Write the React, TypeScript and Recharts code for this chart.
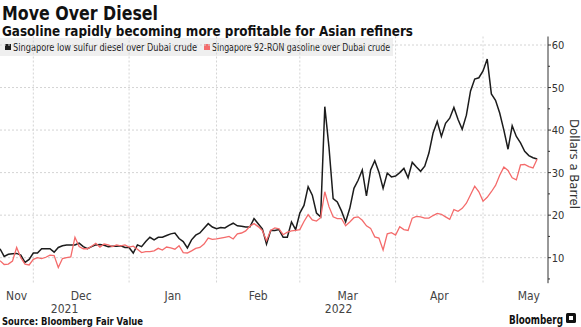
import React from "react";
import { LineChart, Line, XAxis, YAxis, CartesianGrid } from "recharts";

// Singapore low sulfur diesel over Dubai crude (business days, Nov 19 2021 - May 19 2022)
const diesel = [
  12.1, 10.3, 10.8, 10.9, 11.0, 10.6, 8.9, 9.6, 11.1, 11.1,
  12.1, 12.1, 12.1, 11.3, 12.4, 12.8, 13.0, 13.0, 13.0, 13.4,
  12.6, 12.1, 12.6, 13.0, 13.1, 12.9, 12.6, 12.7, 12.7, 12.8,
  12.4, 12.4, 11.1, 13.0, 12.6, 13.8, 14.8, 14.2, 14.8, 14.8,
  15.2, 15.6, 15.8, 14.5, 13.8, 12.3, 14.2, 15.3, 15.8, 16.9,
  18.0, 17.2, 16.8, 17.1, 17.0, 17.6, 18.1, 17.5, 17.4, 17.2,
  17.2, 19.2, 18.0, 16.8, 13.2, 16.4, 16.4, 16.6, 14.8, 14.8,
  18.4, 16.6, 20.5, 22.3, 26.7, 24.7, 20.5, 19.6, 45.5, 36.0,
  23.9, 23.1, 21.0, 18.4, 21.6, 26.3, 28.2, 30.6, 24.5, 30.6,
  32.8, 30.1, 26.3, 29.9, 29.0, 29.2, 30.0, 31.0, 28.8, 32.4,
  31.3, 30.3, 31.5, 34.6, 39.3, 42.0, 38.5, 41.6, 42.8, 45.3,
  42.5, 40.2, 43.5, 49.2, 52.0, 52.3, 53.9, 56.7, 48.5, 47.0,
  44.0, 40.0, 35.5, 41.0, 38.5, 37.0, 35.0, 34.0, 33.5, 33.2,
];

// Singapore 92-RON gasoline over Dubai crude
const gasoline = [
  9.3, 8.4, 8.5, 9.2, 12.4, 10.0, 8.5, 8.3, 9.6, 10.0,
  9.8, 10.1, 10.6, 10.5, 7.7, 9.8, 10.0, 10.2, 14.8, 12.6,
  12.1, 12.1, 12.7, 13.4, 12.5, 13.2, 13.0, 12.6, 13.0, 12.8,
  13.0, 12.5, 12.7, 12.0, 11.2, 11.4, 11.4, 11.6, 12.2, 11.8,
  12.5, 12.3, 12.0, 12.8, 11.2, 11.1, 11.6, 12.2, 12.4, 13.2,
  14.6, 14.3, 14.4, 14.6, 14.8, 15.0, 14.4, 15.6, 15.8, 16.3,
  17.4, 18.0, 17.3, 16.4, 14.0, 16.4, 17.0, 16.8, 15.4, 16.0,
  16.3, 16.4, 16.6, 18.5, 20.1, 18.9, 18.6, 19.4, 25.5, 22.0,
  19.6, 19.2, 19.2, 17.5, 18.4, 19.4, 19.6, 18.8, 17.5, 16.9,
  14.9, 14.6, 11.8, 15.6, 15.9, 15.3, 17.3, 16.6, 16.4, 19.3,
  19.7, 19.6, 19.3, 19.3, 19.9, 20.4, 20.2, 19.6, 19.0, 21.3,
  20.9, 21.6, 22.8, 24.8, 26.8, 25.5, 23.3, 24.2, 25.5, 27.0,
  29.4, 31.3, 30.5, 28.8, 28.3, 31.8, 31.9, 31.4, 31.1, 33.2,
];

// business-day index of each month start (Dec 1, Jan 3, Feb 1, Mar 1, Apr 1, May 2)
const monthStartIdx = [8, 31, 52, 72, 95, 116];
const monthNames = ["Nov", "Dec", "Jan", "Feb", "Mar", "Apr", "May"];
const monthLabelIdx = [4, 19.5, 41.5, 62, 83.5, 105.5, 127];
const yearNames = ["2021", "2022"];
const yearLabelIdx = [15.5, 81.3];
const yMajor = [10, 20, 30, 40, 50, 60];
const yTicksAll = [5, 10, 15, 20, 25, 30, 35, 40, 45, 50, 55, 60];
const xDomain: [number, number] = [0, 131.6];
const yDomain: [number, number] = [4, 62];

const legendLabels = [
  "Singapore low sulfur diesel over Dubai crude",
  "Singapore 92-RON gasoline over Dubai crude",
];

const rows = diesel.map((d, i) => ({ i, diesel: d, gasoline: gasoline[i] }));

const FONT = "'DejaVu Sans Condensed', 'DejaVu Sans', sans-serif";
const BOLD = "'DejaVu Sans', sans-serif";
const BLACK = "#1c1c1c";
const RED = "#f46b6b";

const YTick = (props: any) => {
  const { x, y, payload } = props;
  const v = payload.value;
  const major = v % 10 === 0;
  return (
    <g>
      <line x1={x} x2={x + (major ? 3 : 2)} y1={y} y2={y} stroke="#333" strokeWidth={1} />
      {major && (
        <text x={x + 3.7} y={y + 4} fontSize={11} fill="#333" fontFamily={FONT}>
          {v}
        </text>
      )}
    </g>
  );
};

const XTick = (props: any) => {
  const { x, y, payload } = props;
  const v = payload.value;
  const mi = monthLabelIdx.indexOf(v);
  if (mi >= 0) {
    return (
      <text x={x} y={y + 17} textAnchor="middle" fontSize={12} fill="#444" fontFamily={FONT}>
        {monthNames[mi]}
      </text>
    );
  }
  const yi = yearLabelIdx.indexOf(v);
  if (yi >= 0) {
    return (
      <text x={x} y={y + 30} textAnchor="middle" fontSize={12} fill="#444" fontFamily={FONT}>
        {yearNames[yi]}
      </text>
    );
  }
  return null;
};

export default function App() {
  return (
    <div style={{ position: "absolute", left: 0, top: 0, width: 581, height: 327, background: "#fff" }}>
      <svg width={581} height={327} style={{ position: "absolute", left: 0, top: 0 }}>
        <text x={2} y={19.5} fontSize={19} fontWeight="bold" fill="#111" fontFamily={BOLD} textLength={156} lengthAdjust="spacingAndGlyphs">
          Move Over Diesel
        </text>
        <text x={2} y={35.5} fontSize={14} fontWeight="bold" fill="#111" fontFamily={BOLD} textLength={411} lengthAdjust="spacingAndGlyphs">
          Gasoline rapidly becoming more profitable for Asian refiners
        </text>
        <rect x={0} y={38} width={393} height={18} fill="#efefef" />
        <rect x={5} y={44} width={6} height={6} fill={BLACK} />
        <text x={13} y={51} fontSize={10.5} fill="#222" fontFamily={FONT} textLength={184} lengthAdjust="spacingAndGlyphs">
          {legendLabels[0]}
        </text>
        <rect x={204} y={44} width={6} height={6} fill={RED} />
        <text x={212} y={51} fontSize={10.5} fill="#222" fontFamily={FONT} textLength={178} lengthAdjust="spacingAndGlyphs">
          {legendLabels[1]}
        </text>
        <text x={569.5} y={164} transform="rotate(90 569.5 164)" textAnchor="middle" fontSize={13} fill="#333" fontFamily={FONT}>
          Dollars a Barrel
        </text>
        <text x={2} y={325} fontSize={10.5} fontWeight="bold" fill="#111" fontFamily={BOLD} textLength={141} lengthAdjust="spacingAndGlyphs">
          Source: Bloomberg Fair Value
        </text>
        <text x={509} y={324} fontSize={12.5} fontWeight="bold" fill="#111" fontFamily={FONT} textLength={54} lengthAdjust="spacingAndGlyphs">
          Bloomberg
        </text>
        <rect x={566} y={313} width={10} height={10} rx={1.5} fill="#111" />
        <rect x={569} y={316} width={4} height={4} fill="#fff" />
      </svg>
      <div style={{ position: "absolute", left: 0, top: 0 }}>
        <LineChart width={581} height={327} data={rows} margin={{ top: 36.5, right: 0, bottom: 42.8, left: 0 }}>
          <CartesianGrid
            stroke="#d4d4d4"
            strokeDasharray="2 2"
            horizontalValues={yMajor}
            verticalValues={monthStartIdx}
          />
          <XAxis
            dataKey="i"
            type="number"
            domain={xDomain}
            allowDataOverflow
            ticks={[...monthLabelIdx, ...yearLabelIdx]}
            interval={0}
            tick={<XTick />}
            tickLine={false}
            axisLine={false}
            tickSize={0}
            tickMargin={0}
            height={1}
          />
          <YAxis
            orientation="right"
            type="number"
            domain={yDomain}
            allowDataOverflow
            ticks={yTicksAll}
            interval={0}
            tick={<YTick />}
            tickLine={false}
            tickSize={0}
            tickMargin={0}
            axisLine={{ stroke: "#333", strokeWidth: 1 }}
            width={33}
          />
          <Line dataKey="diesel" stroke={BLACK} strokeWidth={1.5} dot={false} isAnimationActive={false} type="linear" />
          <Line dataKey="gasoline" stroke={RED} strokeWidth={1.3} dot={false} isAnimationActive={false} type="linear" />
        </LineChart>
      </div>
    </div>
  );
}
